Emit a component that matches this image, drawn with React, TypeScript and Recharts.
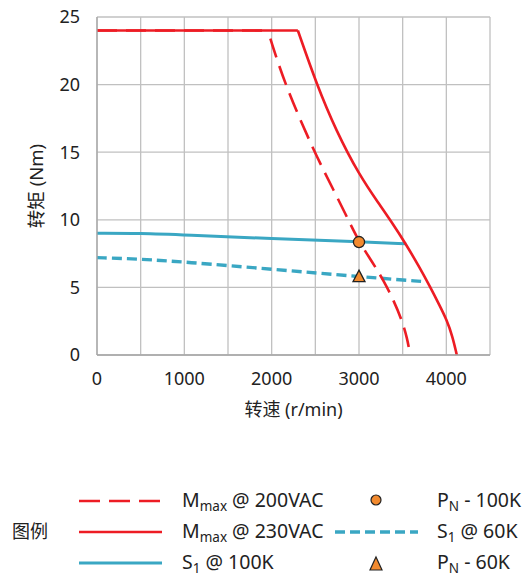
import { ComposedChart, Line, Scatter, XAxis, YAxis, CartesianGrid, Label } from "recharts"

// speed (r/min) and torque (Nm)
const mmax200Speed = [0, 1975, 1985, 2152, 2488, 2725, 2877, 3003, 3150, 3278, 3400, 3489, 3550, 3586]
const mmax200Torque = [24, 24, 23.4, 20, 15, 12, 10, 8.35, 6.9, 5.55, 4.0, 2.6, 1.3, 0]

const mmax230Speed = [0, 2300, 2516, 2737, 3003, 3237, 3361, 3538, 3700, 3813, 3920, 4004, 4070, 4120]
const mmax230Torque = [24, 24, 20, 16.6, 13.3, 11.1, 9.95, 8.2, 6.4, 5.05, 3.7, 2.6, 1.4, 0]

const s1100Speed = [0, 500, 1000, 2000, 3000, 3540]
const s1100Torque = [9, 9, 8.88, 8.6, 8.38, 8.22]

const s160Speed = [0, 500, 1000, 2000, 3000, 3755]
const s160Torque = [7.2, 7.1, 6.88, 6.35, 5.8, 5.42]

const pn100 = [{ speed: 3000, torque: 8.35 }]
const pn60 = [{ speed: 3000, torque: 5.8 }]

const xTicks = [0, 500, 1000, 1500, 2000, 2500, 3000, 3500, 4000, 4500]
const xLabels = [0, 1000, 2000, 3000, 4000]
const yTicks = [0, 5, 10, 15, 20, 25]

const RED = "#ED1C24"
const TEAL = "#3AA7C3"
const ORANGE = "#F28A2E"
const FONT = "'Noto Sans', 'Noto Sans CJK SC', sans-serif"

const zip = (xs: number[], ys: number[]) => xs.map((x, i) => ({ speed: x, torque: ys[i] }))

// flat part and falling part of each red curve
const m200 = zip(mmax200Speed, mmax200Torque)
const m230 = zip(mmax230Speed, mmax230Torque)

function Circle(props: any) {
  return <circle cx={props.cx} cy={props.cy} r={5.6} fill={ORANGE} stroke="#222" strokeWidth={1.3} />
}

function Triangle(props: any) {
  const { cx, cy } = props
  return (
    <path
      d={`M${cx},${cy - 6.5} L${cx + 6},${cy + 5} L${cx - 6},${cy + 5} Z`}
      fill={ORANGE}
      stroke="#222"
      strokeWidth={1.3}
    />
  )
}

function LegendLine({ color, dash, width }: { color: string; dash?: string; width: number }) {
  return (
    <svg width={83} height={8} style={{ display: "block" }}>
      <line x1={0} y1={4} x2={83} y2={4} stroke={color} strokeWidth={width} strokeDasharray={dash} />
    </svg>
  )
}

const txt = { position: "absolute" as const, fontSize: 19.5, color: "#222", lineHeight: "20px", whiteSpace: "nowrap" as const }
const sub = { fontSize: 13.5, verticalAlign: "-4px" }
const axisFont = { fill: "#222", fontSize: 18, fontFamily: FONT }

export default function App() {
  return (
    <div style={{ position: "absolute", left: 0, top: 0, width: 522, height: 573, background: "#fff", fontFamily: FONT, overflow: "hidden" }}>
      <ComposedChart width={522} height={430} margin={{ top: 17, right: 32, left: 0, bottom: 15 }}>
        <CartesianGrid stroke="#c0c0c0" strokeWidth={1.3} />
        <XAxis
          dataKey="speed"
          type="number"
          domain={[0, 4500]}
          ticks={xTicks}
          interval={0}
          tickFormatter={(v: number) => (xLabels.includes(v) ? String(v) : "")}
          tickLine={false}
          stroke="#a6a6a6"
          strokeWidth={1.3}
          tick={axisFont}
          tickMargin={11}
          height={60}
        >
          <Label value="转速 (r/min)" position="insideBottom" offset={-1} style={axisFont} />
        </XAxis>
        <YAxis
          dataKey="torque"
          type="number"
          domain={[0, 25]}
          ticks={yTicks}
          interval={0}
          tickLine={false}
          tickSize={0}
          tickMargin={17}
          width={97}
          stroke="#a6a6a6"
          strokeWidth={1.3}
          tick={axisFont}
        >
          <Label
            value="转矩 (Nm)"
            angle={-90}
            position="insideLeft"
            offset={36}
            style={{ ...axisFont, fontSize: 18.5, textAnchor: "middle" }}
          />
        </YAxis>
        <Line data={zip(s160Speed, s160Torque)} dataKey="torque" type="basis" stroke={TEAL} strokeWidth={3.4} strokeDasharray="10 5" dot={false} isAnimationActive={false} />
        <Line data={zip(s1100Speed, s1100Torque)} dataKey="torque" type="basis" stroke={TEAL} strokeWidth={3} dot={false} isAnimationActive={false} />
        <Line data={m200.slice(0, 2)} dataKey="torque" type="linear" stroke={RED} strokeWidth={2.6} strokeDasharray="20 9" dot={false} isAnimationActive={false} />
        <Line data={m200.slice(2)} dataKey="torque" type="basis" stroke={RED} strokeWidth={2.6} strokeDasharray="20 9" dot={false} isAnimationActive={false} />
        <Line data={m230.slice(0, 2)} dataKey="torque" type="linear" stroke={RED} strokeWidth={2.6} dot={false} isAnimationActive={false} />
        <Line data={m230.slice(1)} dataKey="torque" type="basis" stroke={RED} strokeWidth={2.6} dot={false} isAnimationActive={false} />
        <Scatter data={pn100} dataKey="torque" shape={Circle} isAnimationActive={false} />
        <Scatter data={pn60} dataKey="torque" shape={Triangle} isAnimationActive={false} />
      </ComposedChart>

      {/* legend */}
      <div style={{ ...txt, left: 12, top: 521, fontSize: 18 }}>图例</div>

      <div style={{ position: "absolute", left: 79, top: 497 }}><LegendLine color={RED} width={2.6} dash="21 9" /></div>
      <div style={{ ...txt, left: 182, top: 490 }}>M<span style={sub}>max</span> @ 200VAC</div>

      <div style={{ position: "absolute", left: 79, top: 528 }}><LegendLine color={RED} width={2.6} /></div>
      <div style={{ ...txt, left: 182, top: 521 }}>M<span style={sub}>max</span> @ 230VAC</div>

      <div style={{ position: "absolute", left: 79, top: 559 }}><LegendLine color={TEAL} width={3.2} /></div>
      <div style={{ ...txt, left: 182, top: 552 }}>S<span style={sub}>1</span> @ 100K</div>

      <svg style={{ position: "absolute", left: 366, top: 490 }} width={20} height={20}>
        <circle cx={10} cy={10} r={5} fill={ORANGE} stroke="#222" strokeWidth={1.2} />
      </svg>
      <div style={{ ...txt, left: 437, top: 490 }}>P<span style={sub}>N</span> - 100K</div>

      <div style={{ position: "absolute", left: 335, top: 528 }}><LegendLine color={TEAL} width={3.4} dash="10 5" /></div>
      <div style={{ ...txt, left: 437, top: 521 }}>S<span style={sub}>1</span> @ 60K</div>

      <svg style={{ position: "absolute", left: 366, top: 552 }} width={20} height={21}>
        <path d="M10,5 L16,18 L4,18 Z" fill={ORANGE} stroke="#222" strokeWidth={1.2} />
      </svg>
      <div style={{ ...txt, left: 437, top: 552 }}>P<span style={sub}>N</span> - 60K</div>
    </div>
  )
}
